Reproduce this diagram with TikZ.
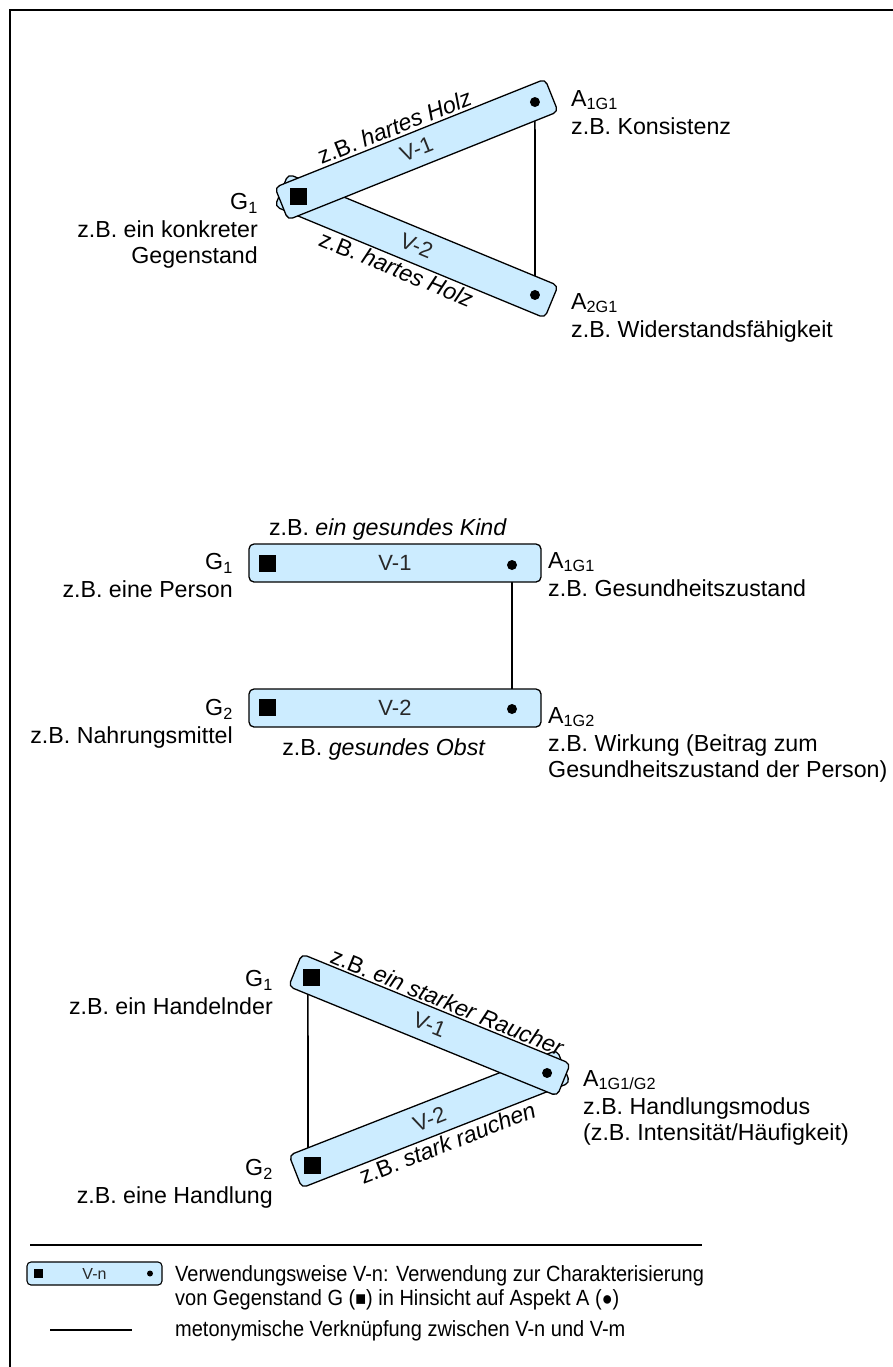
\documentclass[tikz,border=0pt]{standalone}
\usepackage{fontspec}
\setmainfont{Liberation Sans}
\usetikzlibrary{calc}
\pgfdeclarelayer{back}
\pgfsetlayers{back,main}
\definecolor{barblue}{RGB}{204,236,255}
\definecolor{vgray}{RGB}{40,40,40}
\begin{document}
\begin{tikzpicture}[x=1pt,y=-1pt,
  bar/.style={draw=black, line width=1.3pt, fill=barblue, rounded corners=5pt, inner sep=0pt, font=\fontsize{22}{24}\selectfont, text=vgray},
  gsq/.style={fill=black, minimum size=17pt, inner sep=0pt},
  adot/.style={circle, fill=black, minimum size=10pt, inner sep=0pt},
  lbl/.style={font=\fontsize{23.2}{25.5}\selectfont, inner sep=0pt},
  lbl2/.style={font=\fontsize{20}{22}\selectfont, inner sep=0pt},
  link/.style={line width=1.6pt},
]
\useasboundingbox (0,0) rectangle (893,1367);
% frame
\draw[line width=2pt] (10,1367) -- (10,10) -- (893,10);

% ---------- top diagram ----------
\begin{scope}[shift={(416.5,246)}, rotate=-22.46]
  \node[bar, transform shape, minimum width=292pt, minimum height=35pt] (tv2) at (0,0) {V-2};
  \node[adot] (ta2) at (128.2,0) {};
  \node[lbl, transform shape, anchor=north] (tl2) at (-10,20) {z.B. \textit{hartes Holz}};
\end{scope}
\begin{scope}[shift={(416.5,149.5)}, rotate=21.84]
  \node[bar, transform shape, minimum width=291pt, minimum height=35pt] (tv1) at (0,0) {V-1};
  \node[gsq] (tg) at (-127.6,0) {};
  \node[adot] (ta1) at (127.6,0) {};
  \node[lbl, transform shape, anchor=base] (tl1) at (-12,-21) {z.B. \textit{hartes Holz}};
\end{scope}
\node[lbl, align=right, anchor=north east] (tG) at (258,193) {G\textsubscript{1}\\[3pt] z.B. ein konkreter\\ Gegenstand};
\node[lbl, align=left, anchor=north west] (tA1) at (571,90) {A\textsubscript{1G1}\\[3pt] z.B. Konsistenz};
\node[lbl, align=left, anchor=north west] (tA2) at (571,293) {A\textsubscript{2G1}\\[3pt] z.B. Widerstandsfähigkeit};

% ---------- middle diagram ----------
\node[bar, minimum width=292pt, minimum height=38pt] (mv1) at (395,563) {V-1};
\node[gsq] (mg1) at (267,563) {};
\node[adot] (ma1) at (512,565) {};
\node[bar, minimum width=292pt, minimum height=38pt] (mv2) at (395,708) {V-2};
\node[gsq] (mg2) at (267,707) {};
\node[adot] (ma2) at (512,709) {};
\node[lbl, anchor=base] (mt1) at (388,535) {z.B. \textit{ein gesundes Kind}};
\node[lbl, anchor=base] (mt2) at (384,755) {z.B. \textit{gesundes Obst}};
\node[lbl, align=right, anchor=north east] (mG1) at (233,553) {G\textsubscript{1}\\[3pt] z.B. eine Person};
\node[lbl, align=right, anchor=north east] (mG2) at (233,699) {G\textsubscript{2}\\[3pt] z.B. Nahrungsmittel};
\node[lbl, align=left, anchor=north west] (mA1) at (548,552) {A\textsubscript{1G1}\\[3pt] z.B. Gesundheitszustand};
\node[lbl, align=left, anchor=north west] (mA2) at (548,707) {A\textsubscript{1G2}\\[3pt] z.B. Wirkung (Beitrag zum\\ Gesundheitszustand der Person)};

% ---------- bottom diagram ----------
\begin{scope}[shift={(429.5,1119)}, rotate=21.4]
  \node[bar, transform shape, minimum width=288pt, minimum height=35pt] (bv2) at (0,0) {V-2};
  \node[gsq] (bg2) at (-126.2,0) {};
  \node[lbl, transform shape, anchor=north] (bl2) at (8,20) {z.B. \textit{stark rauchen}};
\end{scope}
\begin{scope}[shift={(429.5,1025)}, rotate=-22.2]
  \node[bar, transform shape, minimum width=290pt, minimum height=35pt] (bv1) at (0,0) {V-1};
  \node[gsq] (bg1) at (-127,0) {};
  \node[adot] (ba) at (127,0) {};
  \node[lbl, transform shape, anchor=base] (bl1) at (8,-20) {z.B. \textit{ein starker Raucher}};
\end{scope}
\node[lbl, align=right, anchor=north east] (bG1) at (273,970) {G\textsubscript{1}\\[3pt] z.B. ein Handelnder};
\node[lbl, align=right, anchor=north east] (bG2) at (273,1159) {G\textsubscript{2}\\[3pt] z.B. eine Handlung};
\node[lbl, align=left, anchor=north west] (bA) at (583,1070) {A\textsubscript{1G1/G2}\\[3pt] z.B. Handlungsmodus\\ (z.B. Intensität/Häufigkeit)};

% ---------- legend ----------
\coordinate (sepL) at (30,1245);
\coordinate (sepR) at (702,1245);
\draw[link] (sepL) -- (sepR);
\node[bar, minimum width=135pt, minimum height=23pt, line width=1.1pt, rounded corners=4pt, font=\fontsize{16}{18}\selectfont] (lg) at (94.5,1273.5) {V-n};
\node[fill=black, minimum size=9pt, inner sep=0pt] (lgs) at (38,1273.5) {};
\node[circle, fill=black, minimum size=6pt, inner sep=0pt] (lgd) at (150,1273.5) {};
\node[lbl2, align=left, anchor=north west, yscale=1.1, transform shape] (lt1) at (175,1265) {Verwendungsweise V-n: Verwendung zur Charakterisierung\\ von Gegenstand G ({\fontsize{18}{18}\selectfont■}) in Hinsicht auf Aspekt A ({\fontsize{18}{18}\selectfont●})};
\coordinate (llA) at (50,1330);
\coordinate (llB) at (132,1330);
\draw[link] (llA) -- (llB);
\node[lbl2, anchor=west, yscale=1.1, transform shape] (lt2) at (175,1331) {metonymische Verknüpfung zwischen V-n und V-m};

% ---------- metonymic links (behind bars) ----------
\begin{pgfonlayer}{back}
  \draw[link] (ta1.center) -- (ta2.center);
  \draw[link] (ma1.center) -- (ma2.center);
  \draw[link] ([xshift=-4pt]bg1.center) -- ([xshift=-4pt]bg2.center);
\end{pgfonlayer}
\end{tikzpicture}
\end{document}
